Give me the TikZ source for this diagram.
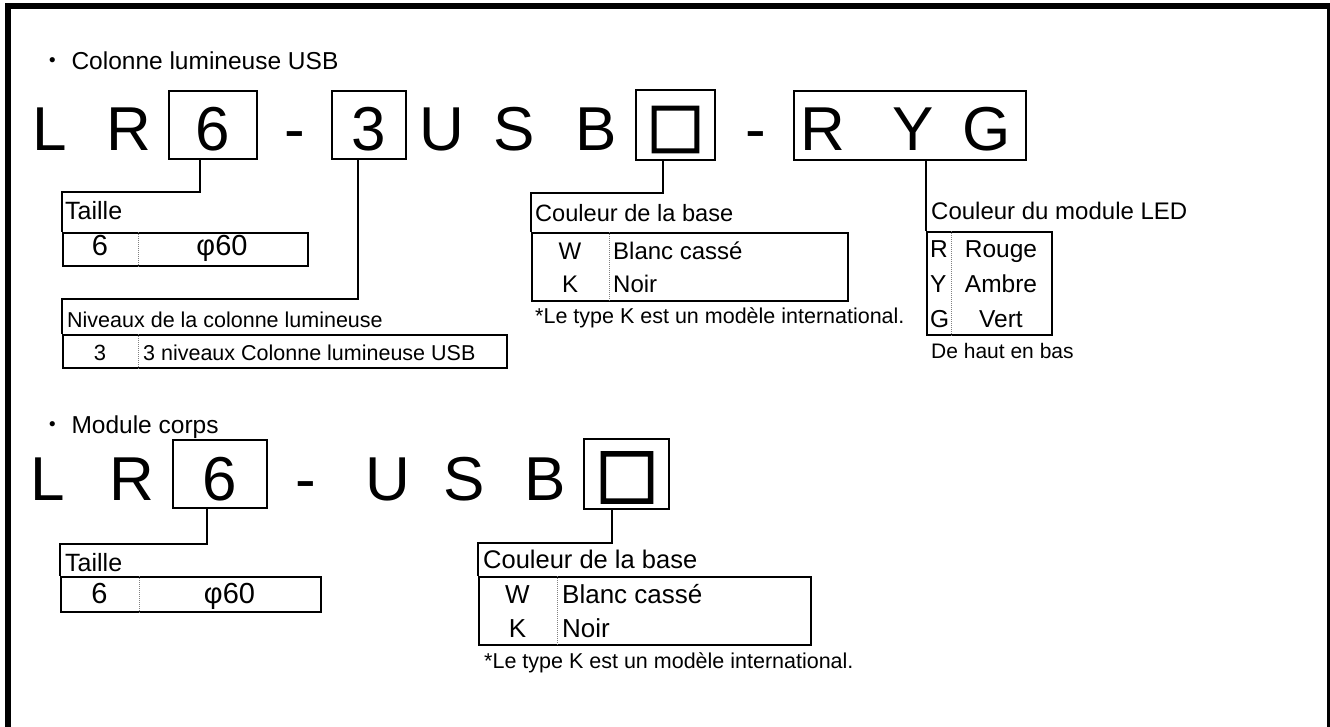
\documentclass[tikz,border=0pt]{standalone}
\usepackage{fontspec}
\setmainfont{Liberation Sans}
\newfontfamily\cjk{Noto Sans CJK JP}
\newfontfamily\cjkbox{Noto Sans CJK JP}[FakeBold=5]
\newcommand{\setsz}[1]{\fontsize{#1}{#1}\selectfont}

\begin{document}
\begin{tikzpicture}[x=1pt, y=-1pt,
    code/.style={font=\setsz{62}, anchor=base, inner sep=0pt},
    slot/.style={draw, line width=2pt, inner sep=0pt},
    tab/.style={draw, line width=2pt, anchor=north west, inner sep=0pt},
    wire/.style={line width=2pt},
    sep/.style={densely dotted, gray, line width=1pt},
    lbl/.style={anchor=base west, inner sep=0pt},
    cell/.style={anchor=base, inner sep=0pt}]
                \useasboundingbox (0, 0) rectangle (1330, 727);
                \draw[line width=6pt] (8, 740) -- (8, 6) -- (1330, 6) -- (1330, 740);

                % Colonne lumineuse USB
                \node (h1) at (40, 70) [lbl, font=\setsz{24.5}] {{\cjk ・} Colonne lumineuse USB};

                \node (l1) at (50, 151) [code] {L};
                \node (r1) at (129, 151) [code] {R};
                \node (box6) at (213, 125) [slot, minimum width=88pt, minimum height=68pt] {};
                \node (n6) at (213, 151) [code] {6};
                \node (d1) at (295, 151) [code] {-};
                \node (box3) at (369, 125) [slot, minimum width=74pt, minimum height=68pt] {};
                \node (n3) at (369, 151) [code] {3};
                \node (u1) at (442, 151) [code] {U};
                \node (s1) at (514, 151) [code] {S};
                \node (b1) at (596, 151) [code] {B};
                \node (boxbase) at (675.5, 125) [slot, minimum width=79pt, minimum height=70pt] {};
                \node (q1) at (675.5, 129.5) [font=\cjkbox\setsz{56}, inner sep=0pt] {□};
                \node (d2) at (756, 151) [code] {-};
                \node (boxled) at (910, 125.5) [slot, minimum width=232pt, minimum height=69pt] {};
                \node (cr) at (823, 151) [code] {R};
                \node (cy) at (913, 151) [code] {Y};
                \node (cg) at (987, 151) [code] {G};

                % Taille
                \node (t1) at (62, 232) [tab, minimum width=245pt, minimum height=33pt] {};
                \node (t1h) at (65, 220) [lbl, font=\setsz{25}] {Taille};
                \draw[sep] ([xshift=76pt]t1.north west) -- ([xshift=76pt]t1.south west);
                \node (t1a) at (100, 256) [cell, font=\setsz{29}] {6};
                \node (t1b) at (222, 256) [cell, font=\setsz{29}] {φ60};
                \draw[wire] ([xshift=-13pt]box6.south) -- ++(0, 32) -| (t1.north west);

                % Niveaux
                \node (t2) at (62, 334) [tab, minimum width=444pt, minimum height=33pt] {};
                \node (t2h) at (67, 327) [lbl, font=\setsz{21.5}] {Niveaux de la colonne lumineuse};
                \draw[sep] ([xshift=76pt]t2.north west) -- ([xshift=76pt]t2.south west);
                \node (t2a) at (100, 360) [cell, font=\setsz{22}] {3};
                \node (t2b) at (143, 360) [lbl, font=\setsz{21.5}] {3 niveaux Colonne lumineuse USB};
                \draw[wire] ([xshift=-11pt]box3.south) -- ++(0, 139) -| (t2.north west);

                % Couleur de la base
                \node (t3) at (531, 232) [tab, minimum width=316pt, minimum height=68pt] {};
                \node (t3h) at (535, 222) [lbl, font=\setsz{23.6}] {Couleur de la base};
                \draw[sep] ([xshift=78pt]t3.north west) -- ([xshift=78pt]t3.south west);
                \node (t3w) at (570, 260) [cell, font=\setsz{24}] {W};
                \node (t3k) at (570, 293) [cell, font=\setsz{24}] {K};
                \node (t3ww) at (613, 260) [lbl, font=\setsz{24}] {Blanc cassé};
                \node (t3kk) at (613, 293) [lbl, font=\setsz{24}] {Noir};
                \node (n1) at (535, 323) [lbl, font=\setsz{21.5}] {*Le type K est un modèle international.};
                \draw[wire] ([xshift=-12.5pt]boxbase.south) -- ++(0, 32) -| (t3.north west);

                % Couleur du module LED
                \node (t4) at (926, 231) [tab, minimum width=125pt, minimum height=103pt] {};
                \node (t4h) at (931, 220) [lbl, font=\setsz{24}] {Couleur du module LED};
                \draw[sep] ([xshift=25pt]t4.north west) -- ([xshift=25pt]t4.south west);
                \node (t4r) at (930, 258) [lbl, font=\setsz{24.5}] {R};
                \node (t4y) at (930, 293) [lbl, font=\setsz{24.5}] {Y};
                \node (t4g) at (930, 327) [lbl, font=\setsz{24.5}] {G};
                \node (t4rr) at (1001, 258) [cell, font=\setsz{24.5}] {Rouge};
                \node (t4yy) at (1001, 293) [cell, font=\setsz{24.5}] {Ambre};
                \node (t4gg) at (1001, 327) [cell, font=\setsz{24.5}] {Vert};
                \node (n2) at (931, 358) [lbl, font=\setsz{21}] {De haut en bas};
                \draw[wire] ([xshift=16pt]boxled.south) -- (t4.north west);

                % Module corps
                \node (h2) at (40, 433) [lbl, font=\setsz{24.5}] {{\cjk ・} Module corps};

                \node (l2) at (48, 500) [code] {L};
                \node (r2) at (132, 500) [code] {R};
                \node (box6b) at (220, 474) [slot, minimum width=94pt, minimum height=68pt] {};
                \node (m6) at (220, 500) [code] {6};
                \node (d3) at (306, 500) [code] {-};
                \node (u2) at (388, 500) [code] {U};
                \node (s2) at (464, 500) [code] {S};
                \node (b2) at (545, 500) [code] {B};
                \node (boxbaseb) at (626.5, 474) [slot, minimum width=85pt, minimum height=70pt] {};
                \node (q2) at (627, 477.5) [font=\cjkbox\setsz{62}, inner sep=0pt] {□};

                % Taille
                \node (t5) at (60, 576) [tab, minimum width=260pt, minimum height=35pt] {};
                \node (t5h) at (65, 571) [lbl, font=\setsz{25}] {Taille};
                \draw[sep] ([xshift=79pt]t5.north west) -- ([xshift=79pt]t5.south west);
                \node (t5a) at (99.5, 603) [cell, font=\setsz{29}] {6};
                \node (t5b) at (229.5, 603) [cell, font=\setsz{29}] {φ60};
                \draw[wire] ([xshift=-13pt]box6b.south) -- ++(0, 35) -| (t5.north west);

                % Couleur de la base
                \node (t6) at (478, 576) [tab, minimum width=332pt, minimum height=68pt] {};
                \node (t6h) at (483, 568) [lbl, font=\setsz{25.5}] {Couleur de la base};
                \draw[sep] ([xshift=79pt]t6.north west) -- ([xshift=79pt]t6.south west);
                \node (t6w) at (517.5, 603) [cell, font=\setsz{26}] {W};
                \node (t6k) at (517.5, 637) [cell, font=\setsz{26}] {K};
                \node (t6ww) at (562, 603) [lbl, font=\setsz{26}] {Blanc cassé};
                \node (t6kk) at (562, 637) [lbl, font=\setsz{26}] {Noir};
                \node (n3) at (484, 668) [lbl, font=\setsz{21.5}] {*Le type K est un modèle international.};
                \draw[wire] ([xshift=-14.5pt]boxbaseb.south) -- ++(0, 33) -| (t6.north west);
            \end{tikzpicture}
\end{document}
